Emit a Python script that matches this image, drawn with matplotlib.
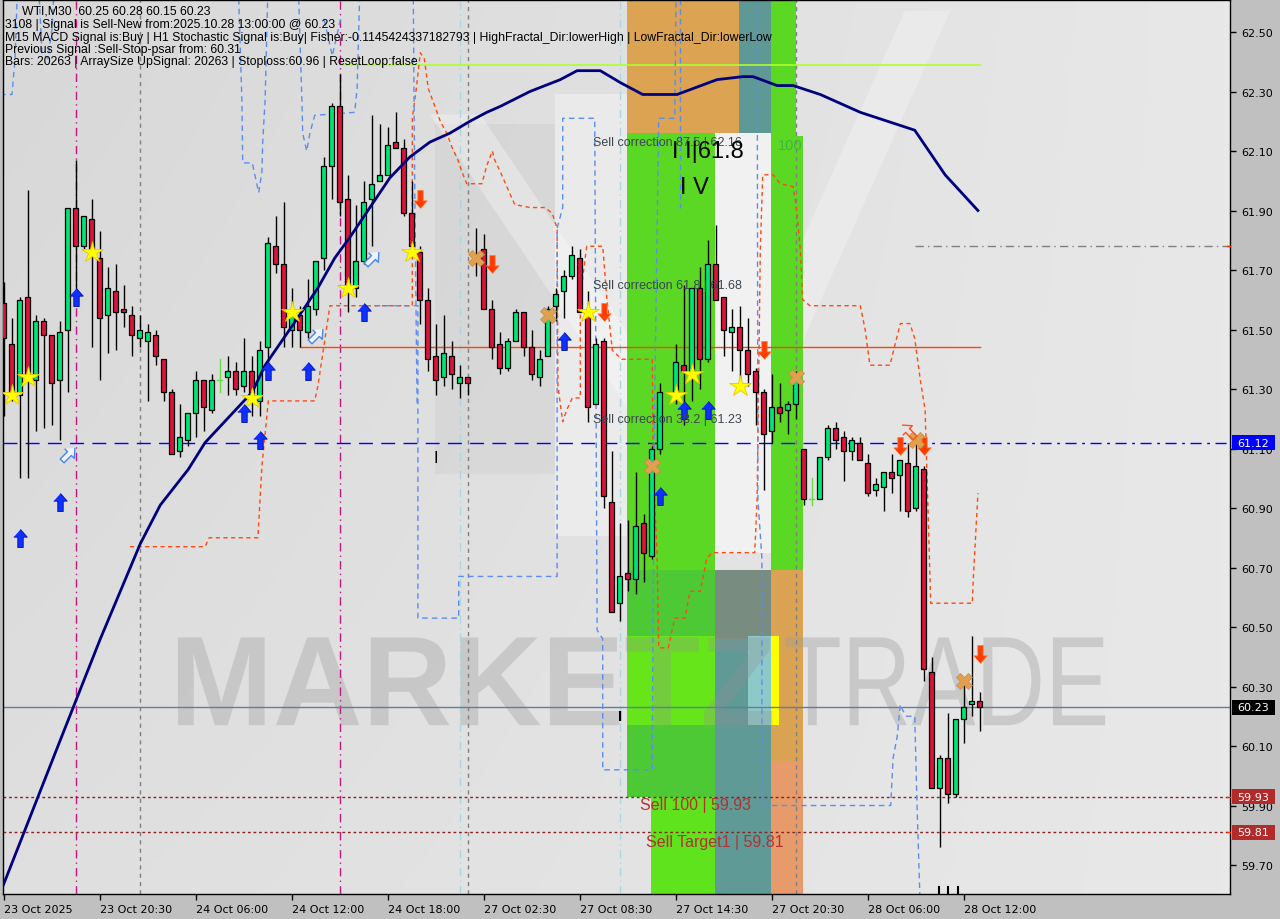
import numpy as np
import matplotlib
matplotlib.use("Agg")
import matplotlib.pyplot as plt
from matplotlib.patches import Rectangle, Polygon, PathPatch
from matplotlib.textpath import TextPath
from matplotlib.font_manager import FontProperties
import matplotlib.transforms as mtransforms

nan = np.nan
# ---------------- candle data (WTI M30) ----------------
opens = [61.59,61.45,61.28,61.61,61.33,61.53,61.48,61.33,61.50,61.91,
         61.78,61.87,61.74,61.55,61.63,61.57,61.55,61.47,61.46,61.48,
         61.40,61.29,61.09,61.13,61.22,61.33,61.23,61.33,61.34,61.36,
         61.31,61.36,61.26,61.44,61.78,61.72,61.50,61.55,61.49,61.57,
         61.74,62.05,62.25,61.94,61.64,61.73,61.94,62.00,62.02,62.13,
         62.11,61.89,61.76,61.60,61.41,61.34,61.41,61.32,61.34,61.74,
         61.77,61.57,61.45,61.37,61.46,61.56,61.44,61.34,61.41,61.58,
         61.63,61.68,61.74,61.56,61.25,61.46,60.92,60.58,60.68,60.66,
         60.85,60.74,61.10,nan,61.29,61.38,61.35,61.64,61.40,61.72,
         61.61,61.49,61.51,61.43,61.36,61.29,61.16,61.24,61.23,61.25,
         61.10,60.93,60.93,61.07,61.17,61.14,61.09,61.12,61.05,60.96,
         60.97,61.02,61.01,61.05,60.90,61.03,60.35,59.96,60.06,59.94,
         60.19,60.24,60.25]
highs = [61.66,61.54,61.61,61.97,61.55,61.54,61.48,61.53,61.91,62.07,
         61.88,61.94,61.83,61.71,61.72,61.65,61.58,61.55,61.52,61.50,
         61.40,61.30,61.25,61.22,61.36,61.33,61.35,61.40,61.41,61.39,
         61.47,61.41,61.46,61.81,61.88,61.93,61.64,61.58,61.67,61.73,
         62.08,62.26,62.36,62.02,61.92,62.00,62.22,62.19,62.18,62.23,
         62.14,62.00,61.78,61.64,61.52,61.55,61.46,61.38,61.34,61.84,
         61.82,61.60,61.49,61.47,61.57,61.56,61.50,61.43,61.58,61.64,
         61.70,61.78,61.77,61.63,61.47,61.47,61.09,60.85,60.86,61.02,
         60.88,61.11,61.32,nan,61.45,61.65,61.64,61.71,61.80,61.85,
         61.61,61.57,61.58,61.54,61.37,61.30,61.35,61.32,61.26,61.36,
         61.10,61.00,61.07,61.18,61.19,61.16,61.14,61.14,61.08,61.00,
         61.02,61.08,61.06,61.12,61.13,61.04,60.40,60.07,60.21,60.19,
         60.32,60.47,60.28]
lows = [61.21,61.26,61.00,61.00,61.16,61.17,61.18,61.13,61.29,61.59,
        61.77,61.44,61.33,61.42,61.43,61.51,61.41,61.44,61.26,61.38,
        61.26,61.08,61.07,61.11,61.14,61.16,61.22,61.29,61.28,61.28,
        61.29,61.21,61.21,61.38,61.69,61.44,61.44,61.44,61.47,61.55,
        61.70,61.94,61.88,61.56,61.61,61.72,61.78,62.00,62.02,62.11,
        61.88,61.75,61.52,61.36,61.28,61.31,61.30,61.27,61.28,61.68,
        61.57,61.40,61.35,61.36,61.46,61.41,61.33,61.31,61.41,61.53,
        61.54,61.67,61.56,61.19,61.25,60.90,60.55,60.52,60.62,60.61,
        60.65,60.73,61.08,nan,61.25,61.18,61.26,61.30,61.39,61.60,
        61.41,61.36,61.32,61.31,61.18,60.96,61.12,61.19,61.15,61.20,
        60.91,60.91,60.93,61.06,61.10,60.99,61.06,61.06,60.94,60.94,
        60.89,60.95,60.89,60.87,60.89,60.32,59.96,59.76,59.91,59.93,
        60.11,60.20,60.15]
closes = [61.47,61.27,61.60,61.33,61.53,61.48,61.32,61.49,61.91,61.78,
          61.88,61.76,61.54,61.64,61.56,61.56,61.48,61.50,61.49,61.41,
          61.29,61.08,61.14,61.22,61.33,61.24,61.33,61.33,61.36,61.30,
          61.36,61.28,61.43,61.79,61.72,61.51,61.55,61.50,61.58,61.73,
          62.05,62.25,61.93,61.65,61.73,61.93,61.99,62.02,62.12,62.11,
          61.89,61.78,61.60,61.40,61.33,61.42,61.35,61.34,61.32,61.75,
          61.57,61.44,61.37,61.46,61.56,61.44,61.35,61.40,61.57,61.62,
          61.68,61.75,61.56,61.24,61.45,60.94,60.55,60.67,60.66,60.84,
          60.75,61.10,61.29,nan,61.39,61.36,61.64,61.40,61.72,61.60,
          61.50,61.51,61.43,61.35,61.29,61.15,61.24,61.22,61.25,61.33,
          60.93,60.93,61.07,61.17,61.13,61.09,61.13,61.06,60.95,60.98,
          61.02,61.00,61.06,60.89,61.04,60.36,59.96,60.06,59.94,60.19,
          60.23,60.25,60.23]
doji_bars = [27, 101]

x_tick_bars = [0, 12, 24, 36, 48, 60, 72, 84, 96, 108, 120]
x_tick_labels = ["23 Oct 2025", "23 Oct 20:30", "24 Oct 06:00", "24 Oct 12:00",
                 "24 Oct 18:00", "27 Oct 02:30", "27 Oct 08:30", "27 Oct 14:30",
                 "27 Oct 20:30", "28 Oct 06:00", "28 Oct 12:00"]
y_ticks = [59.70, 59.90, 60.10, 60.30, 60.50, 60.70, 60.90, 61.10,
           61.30, 61.50, 61.70, 61.90, 62.10, 62.30, 62.50]

# moving average (navy)
ma_k = [-0.06,3.3,7.1,12.1,17.1,19.6,23.1,25.2,31.1,32.7,36.8,39.3,41.4,43.3,45.8,48.3,
        50.8,53.3,55.8,58.3,60.4,62.1,65.8,69.6,71.7,73.3,74.6,77.1,79.9,82.1,84.2,86.2,
        89.2,92.4,93.7,96.7,98.7,102.1,107.1,113.9,117.7,121.8]
ma_p = [59.63,59.86,60.12,60.46,60.78,60.91,61.03,61.12,61.29,61.38,61.54,61.64,61.74,
        61.81,61.91,62.01,62.08,62.13,62.16,62.20,62.23,62.25,62.30,62.34,62.37,62.37,
        62.37,62.33,62.29,62.29,62.29,62.31,62.34,62.35,62.35,62.32,62.32,62.29,62.23,
        62.17,62.02,61.90]

# orange dashed stop band
band_o_k = [15.8,25.2,25.7,31.8,32.3,33.1,38.9,39.3,40.8,51.1,51.1,51.6,52.1,52.6,53.1,
            54.6,55.4,56.1,56.8,57.3,57.9,59.8,60.4,61.1,61.4,62.1,63.9,65.8,67.7,68.6,
            69.2,69.3,69.9,70.4,71.1,72.1,72.1,72.9,74.9,75.4,76.1,77.3,81.1,81.2,81.7,
            81.9,83.1,83.9,85.2,85.8,87.1,87.9,88.6,93.9,94.2,94.6,94.9,96.2,97.1,98.7,
            99.1,99.6,99.9,100.8,107.1,107.7,108.3,110.8,112.1,113.3,113.9,114.6,115.2,
            115.9,121.1,121.2,121.4,121.8]
band_o_p = [60.77,60.77,60.80,60.80,61.04,61.26,61.26,61.31,61.58,61.58,62.21,62.31,
            62.43,62.41,62.31,62.20,62.16,62.11,62.07,62.03,61.99,61.99,62.05,62.10,
            62.07,62.03,61.92,61.91,61.91,61.89,61.84,61.31,61.19,61.23,61.27,61.27,
            61.61,61.78,61.78,61.61,61.43,61.40,61.40,61.05,60.74,60.43,60.43,60.53,
            60.53,60.62,60.62,60.73,60.75,60.75,60.93,61.77,62.02,62.02,61.99,61.98,
            61.91,61.77,61.60,61.58,61.58,61.50,61.38,61.38,61.52,61.52,61.47,61.33,
            61.23,60.58,60.58,60.65,60.75,60.95]

# blue dashed band pieces
blue_a_k = [-0.44,1.06,1.44,1.81]
blue_a_p = [62.29,62.29,62.41,62.70]
blue_b_k = [4.31,4.81,5.56,6.06,6.44]
blue_b_p = [62.70,62.43,62.41,62.51,62.70]
blue_c_k = [29.3,29.8,29.9,31.1,31.9,32.3,32.4,32.7,33.1]
blue_c_p = [62.70,62.27,62.06,62.06,61.96,62.03,62.13,62.27,62.70]
blue_d_k = [36.8,37.3,37.4,37.9,38.3,38.9,43.9,44.2,44.6]
blue_d_p = [62.70,62.27,62.16,62.10,62.16,62.22,62.23,62.31,62.70]
blue_v_k = [40.1,41.1,42.1]
blue_v_p = [62.54,62.42,62.54]
blue_e_k = [51.2,51.4,51.7]
blue_e_p = [62.70,61.98,61.24]
blue_f_k = [45.2,51.8,51.8,56.9,56.9,69.2,69.2,69.9,69.9,73.9,74.2,74.9,74.9,81.1,81.1,
            81.4,81.9,83.9,84.1]
blue_f_p = [61.58,61.58,60.53,60.53,60.67,60.67,61.84,61.91,62.21,62.21,60.49,60.46,
            60.02,60.02,60.16,61.27,62.21,62.21,62.70]
blue_g_k = [84.6,84.6]
blue_g_p = [62.70,61.91]
blue_h_k = [94.2,94.3,94.8,94.8,110.9,111.2,111.7,112.1,112.4,112.9,113.9,114.2,114.6]
blue_h_p = [62.70,60.93,60.73,59.90,59.90,60.06,60.13,60.24,60.22,60.20,60.20,59.89,59.55]

# signal markers
star_k = [1,3,11,31,36,43,51,73,84,86,92]
star_p = [61.28,61.34,61.76,61.27,61.56,61.64,61.76,61.56,61.28,61.35,61.31]
up_k = [2,7,9,30,32,33,38,45,70,82,85,88]
up_p = [60.80,60.92,61.61,61.22,61.13,61.36,61.36,61.56,61.46,60.94,61.23,61.23]
down_k = [52,61,75,95,112,115,122]
down_p = [61.94,61.72,61.56,61.43,61.11,61.11,60.41]
cross_k = [59,68,81,99,114,120]
cross_p = [61.74,61.55,61.04,61.34,61.13,60.32]
hollow_k = [8,39,46]
hollow_p = [61.08,61.48,61.74]
hollow_red_k = [113]
hollow_red_p = [61.16]

# levels
level_blue = 61.12
level_last = 60.23
level_sell100 = 59.93
level_target1 = 59.81
level_red = 61.44
level_lime = 62.39
level_gray = 61.78

# zones (k0, k1, p0, p1, color)
zone_k0 = [77.9, 91.9, 95.9, 95.9, 77.9, 77.9, 80.9, 77.9, 88.9, 88.9, 88.9, 95.9, 95.9, 93.06, 95.9]
zone_k1 = [91.9, 95.9, 99.06, 99.94, 88.94, 88.94, 88.94, 88.94, 95.9, 95.9, 95.9, 99.94, 99.94, 95.9, 96.9]
zone_p0 = [62.16, 62.16, 62.15, 60.69, 60.69, 59.93, 59.50, 60.17, 60.46, 59.50, 60.75, 60.05, 59.50, 60.17, 60.17]
zone_p1 = [62.70, 62.70, 62.70, 62.15, 62.16, 60.69, 59.93, 60.47, 60.69, 60.46, 62.16, 60.69, 60.05, 60.47, 60.47]
zone_col = ['#dba352', '#5f9995', '#5bd823', '#5bd823', '#5bd823', '#4ec936', '#5ee31c', '#66e61a',
            '#788c80', '#5f9a96', '#f1f1f1', '#d9a353', '#e89b6a', '#8ec9c9', '#ffff00']

# ---------------- figure ----------------
W, H = 1280, 920
fig = plt.figure(figsize=(W / 100, H / 100), dpi=100, facecolor='#c0c0c0')
ax = fig.add_axes([3 / W, 25 / H, 1227 / W, 894 / H])
XMIN, XMAX = -0.0625, 153.31
YMIN, YMAX = 59.6026, 62.6076
ax.set_xlim(XMIN, XMAX)
ax.set_ylim(YMIN, YMAX)

# background gradient + faint logo shapes
gy, gx = np.mgrid[0:1:120j, 0:1:200j]
v = 0.845 + 0.065 * gx + 0.03 * gy * (1 - gx)
ax.imshow(np.dstack([v, v, v]), extent=(XMIN, XMAX, YMIN, YMAX), aspect='auto',
          origin='upper', zorder=0, interpolation='bilinear')
AT = ax.transAxes
ax.add_patch(Rectangle((0.450, 0.40), 0.059, 0.495, transform=AT, fc='white', alpha=0.35, ec='none', zorder=0.2))
ax.add_patch(Rectangle((0.352, 0.470), 0.098, 0.391, transform=AT, fc='black', alpha=0.035, ec='none', zorder=0.2))
ax.add_patch(Polygon([(0.348, 0.872), (0.389, 0.872), (0.584, 0.475), (0.543, 0.475)], closed=True,
                     transform=AT, fc='white', alpha=0.3, ec='none', zorder=0.2))
ax.add_patch(Polygon([(0.568, 0.475), (0.605, 0.475), (0.772, 0.988), (0.735, 0.988)], closed=True,
                     transform=AT, fc='white', alpha=0.25, ec='none', zorder=0.2))

# zones
for k0, k1, p0, p1, c in zip(zone_k0, zone_k1, zone_p0, zone_p1, zone_col):
    ax.add_patch(Rectangle((k0, p0), k1 - k0, p1 - p0, fc=c, ec='none', zorder=1))


def fit_text(s, fp, k0, k1, p0, p1, **kw):
    tp = TextPath((0, 0), s, size=100, prop=fp)
    bb = tp.get_extents()
    tr = (mtransforms.Affine2D().translate(-bb.x0, -bb.y0)
          .scale((k1 - k0) / bb.width, (p1 - p0) / bb.height).translate(k0, p0))
    ax.add_patch(PathPatch(tr.transform_path(tp), **kw))


fit_text("MARKETZ", FontProperties(family='Liberation Sans', weight='bold'),
         21.8, 96.1, 60.17, 60.465, fc='#909090', ec='none', alpha=0.3, zorder=1.5)
fit_text("TRADE", FontProperties(family='Liberation Sans', weight='normal'),
         97.7, 137.7, 60.17, 60.465, fc='#a0a0a0', ec='none', alpha=0.4, zorder=1.5)

# vertical lines
for kk in [9, 42]:
    ax.axvline(kk, color='#c71585', lw=1, ls=(0, (6, 3, 1, 3)), zorder=2)
for kk in [17, 58, 99]:
    ax.axvline(kk, color='#808080', lw=1, ls=(0, (3, 3)), zorder=2)
for kk in [57, 77]:
    ax.axvline(kk, color='#a8d8e0', lw=1, ls=(0, (6, 3, 1, 3)), zorder=2)
for kk in [116.9, 118.1, 119.3]:
    ax.plot([kk, kk], [YMIN, 59.625], color='black', lw=1.5, zorder=2)

# horizontal levels
ax.plot([XMIN, 113.9], [level_blue] * 2, color='#0000ff', lw=1, ls=(0, (10, 6)), zorder=2.2)
ax.plot([113.9, XMAX], [level_blue] * 2, color='#0000ff', lw=1, ls=(0, (8, 4, 2, 4)), zorder=2.2)
ax.axhline(level_last, color='#5f7f9f', lw=1, zorder=2.2)
ax.axhline(level_sell100, color='#8b2222', lw=1, ls=(0, (2, 2)), zorder=2.2)
ax.axhline(level_target1, color='#8b2222', lw=1, ls=(0, (2, 2)), zorder=2.2)
ax.plot([37, 122], [level_red] * 2, color='#ff4500', lw=1, zorder=2.2)
ax.plot([42, 122], [level_lime] * 2, color='#adff2f', lw=1.2, zorder=2.2)
ax.plot([113.9, XMAX], [level_gray] * 2, color='#808080', lw=1, ls=(0, (6, 3, 1, 3)), zorder=2.2)

# bands
ax.plot(band_o_k, band_o_p, color='#ff4a10', lw=1, ls=(0, (3, 2.5)), zorder=2.5)
for bk, bp in [(blue_a_k, blue_a_p), (blue_b_k, blue_b_p), (blue_c_k, blue_c_p),
               (blue_d_k, blue_d_p), (blue_v_k, blue_v_p), (blue_e_k, blue_e_p),
               (blue_f_k, blue_f_p), (blue_g_k, blue_g_p), (blue_h_k, blue_h_p)]:
    ax.plot(bk, bp, color='#5b8def', lw=1, ls=(0, (4, 3)), zorder=2.5)

# candles
for i in range(len(opens)):
    o, h, l, c = opens[i], highs[i], lows[i], closes[i]
    if np.isnan(o):
        continue
    if i in doji_bars:
        ax.plot([i, i], [l, h], color='#66dd44', lw=1, zorder=4)
        ax.plot([i - 0.35, i + 0.35], [o, o], color='#66dd44', lw=1, zorder=4)
        continue
    ax.plot([i, i], [l, h], color='black', lw=1, zorder=4, solid_capstyle='butt')
    col = '#00e676' if c >= o else '#dc143c'
    lo, hi = min(o, c), max(o, c)
    ax.add_patch(Rectangle((i - 0.3, lo), 0.6, max(hi - lo, 0.004), fc=col, ec='black', lw=0.9, zorder=4.5))

# moving average
ax.plot(ma_k, ma_p, color='#00007f', lw=2, zorder=5)

# markers
up_verts = [(0, 1), (0.75, 0.15), (0.3, 0.15), (0.3, -1), (-0.3, -1), (-0.3, 0.15), (-0.75, 0.15)]
down_verts = [(x, -y) for x, y in up_verts]


def rot(verts, deg):
    a = np.deg2rad(deg)
    ca, sa = np.cos(a), np.sin(a)
    return [(x * ca - y * sa, x * sa + y * ca) for x, y in verts]


ax.plot(star_k, star_p, ls='none', marker='*', ms=16, mfc='#ffff00', mec='#e8c800', mew=0.6, zorder=6)
ax.plot(up_k, up_p, ls='none', marker=up_verts, ms=13, mfc='#1030ff', mec='#0010a0', mew=0.6, zorder=6)
ax.plot(down_k, down_p, ls='none', marker=down_verts, ms=13, mfc='#ff3c00', mec='#ff8040', mew=0.6, zorder=6)
ax.plot(cross_k, cross_p, ls='none', marker='X', ms=11, mfc='#e0a050', mec='#c88a40', mew=0.5, zorder=6)
ax.plot(hollow_k, hollow_p, ls='none', marker=rot(up_verts, -45), ms=12, mfc='#eef4ff', mec='#4a86e8', mew=1, zorder=6)
ax.plot(hollow_red_k, hollow_red_p, ls='none', marker=rot(up_verts, 45), ms=12, mfc='none', mec='#ff5020', mew=1, zorder=6)

# texts on chart
LS = 'Liberation Sans'
for lbl, pp in [("Sell correction 87.5 | 62.16", 62.13), ("Sell correction 61.8 | 61.68", 61.65),
                ("Sell correction 38.2 | 61.23", 61.20)]:
    ax.text(73.7, pp, lbl, fontsize=9, family=LS, color='#3c4650', ha='left', va='center', zorder=7)
ax.text(83.6, 62.10, "I I|61.8", fontsize=17, family=LS, color='black', ha='left', va='center', zorder=7)
ax.text(84.6, 61.98, "I V", fontsize=17, family=LS, color='black', ha='left', va='center', zorder=7)
ax.text(96.8, 62.12, "100", fontsize=10.5, family=LS, color='#3cb83c', ha='left', va='center', zorder=7)
ax.text(54.06, 61.07, "I", fontsize=12, family=LS, color='black', ha='center', va='center', zorder=7)
ax.text(77.06, 60.20, "I", fontsize=11, family=LS, weight='bold', color='black', ha='center', va='center', zorder=7)
ax.text(79.6, 59.905, "Sell 100 | 59.93", fontsize=11.5, family=LS, color='#b03232', ha='left', va='center', zorder=7)
ax.text(80.3, 59.78, "Sell Target1 | 59.81", fontsize=11.5, family=LS, color='#b03232', ha='left', va='center', zorder=7)

# axes styling
for s in ax.spines.values():
    s.set_color('black')
    s.set_linewidth(1)
ax.yaxis.tick_right()
ax.set_yticks(y_ticks)
ax.set_yticklabels(["%.2f" % t for t in y_ticks])
ax.set_xticks(x_tick_bars)
ax.set_xticklabels(x_tick_labels)
for t in ax.get_xticklabels():
    t.set_ha('left')
ax.tick_params(axis='both', direction='out', length=4, width=1, color='black',
               labelsize=8, labelcolor='black')
ax.tick_params(axis='y', pad=4)
ax.tick_params(axis='x', pad=3)

# price boxes on the right axis
bt = mtransforms.blended_transform_factory(ax.transAxes, ax.transData)
for val, fc in [(level_blue, '#0000ff'), (level_last, '#000000'),
                (level_sell100, '#b22a2a'), (level_target1, '#b22a2a')]:
    ax.add_patch(Rectangle((1.0016, val - 0.025), 0.035, 0.05, transform=bt, fc=fc, ec='none',
                           clip_on=False, zorder=10))
    ax.text(1.0191, val, "%.2f" % val, transform=bt, color='white', ha='center', va='center',
            fontsize=8, clip_on=False, zorder=11)
for val in [level_gray, level_sell100, level_target1]:
    ax.plot([0.9975, 1.0], [val, val], transform=bt, color='#ff3300', lw=1, clip_on=False, zorder=10)

# header
header = [(22, 12, "WTI,M30  60.25 60.28 60.15 60.23"),
          (5, 25, "3108 | Signal is Sell-New from:2025.10.28 13:00:00 @ 60.23"),
          (5, 38, "M15 MACD Signal is:Buy | H1 Stochastic Signal is:Buy| Fisher:-0.1145424337182793 | HighFractal_Dir:lowerHigh | LowFractal_Dir:lowerLow"),
          (5, 50, "Previous Signal :Sell-Stop-psar from: 60.31"),
          (5, 62, "Bars: 20263 | ArraySize UpSignal: 20263 | Stoploss:60.96 | ResetLoop:false")]
for xp, yp, s in header:
    fig.text(xp / W, 1 - yp / H, s, fontsize=8.8, family=LS, color='black', ha='left', va='center', zorder=20)

fig.savefig("out.png", dpi=100, facecolor=fig.get_facecolor())
